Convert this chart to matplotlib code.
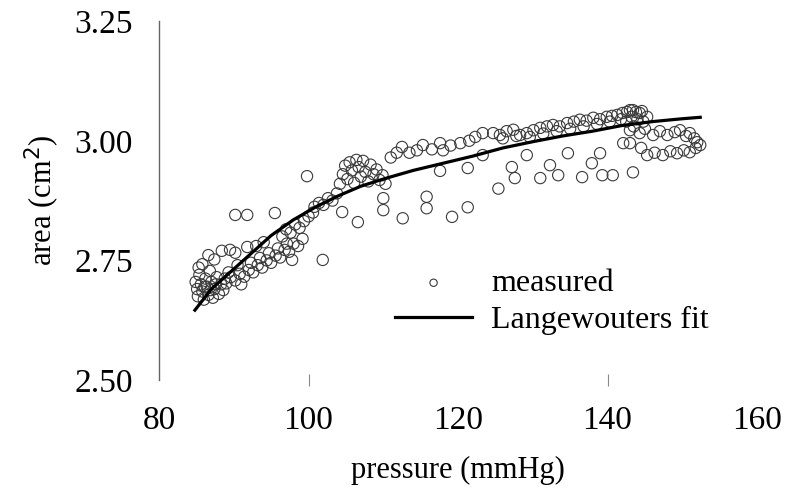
import matplotlib
matplotlib.use('Agg')
import matplotlib.pyplot as plt

# measured points (mmHg, cm^2)
pressure = [84.9, 85.1, 85.2, 85.4, 85.6, 85.8, 86.0, 86.2, 86.4, 86.6, 86.8, 87.0, 87.2, 87.4, 87.7, 88.0, 88.3, 88.6,
            85.3, 86.1, 86.9, 87.6, 88.8, 89.3, 90.5, 91.0,
            85.8, 86.6, 87.4, 88.4, 89.5, 90.2, 91.8, 93.0, 94.0,
            89.0, 89.6, 90.2, 90.8, 91.4, 92.0, 92.6, 93.2, 93.8, 94.4, 95.0, 95.6, 96.2, 96.8, 97.4, 98.0, 98.6, 99.2,
            92.3, 93.5, 94.7, 95.9, 97.1,
            96.5, 97.0, 97.6, 98.2, 98.8, 99.4, 100.0, 100.6,
            100.8, 101.4, 102.0, 102.6, 103.2, 103.8,
            104.2, 104.6, 104.9, 105.2, 105.5, 105.8, 106.1, 106.4, 106.7, 107.0, 107.3, 107.6, 108.0, 108.3, 108.7,
            109.1, 109.5, 109.9, 110.3,
            90.2, 91.8, 95.5, 97.8, 101.9, 99.8,
            104.5, 106.6, 110.0, 110.0, 112.6, 115.8, 115.8, 119.2, 121.3, 117.6, 121.3, 125.4, 123.3, 127.2, 127.6,
            129.2, 132.3, 133.4, 131.0, 134.7, 136.6, 137.9, 139.0, 139.3, 140.7, 143.4,
            111.0, 111.8, 112.5, 113.5, 114.5, 115.3, 116.5, 117.6, 118.0, 119.0, 120.3, 121.5, 122.3, 123.3, 124.7,
            125.6, 126.5, 127.4, 128.3, 129.2, 130.1, 131.0, 131.9, 132.7, 133.6, 134.6, 135.5, 136.3, 137.2, 138.1,
            139.0, 139.9, 140.6, 141.3, 142.0, 142.6, 143.0, 143.4, 143.8, 144.3, 144.6, 145.3,
            126.0, 127.8, 129.6, 131.4, 133.2, 135.0, 136.8, 138.6, 140.3, 141.8, 143.2, 144.0, 144.8,
            142.5, 143.0, 143.5, 144.3, 145.0, 146.1, 147.0, 148.0, 149.0, 149.7, 150.5, 151.0, 151.6, 152.0, 152.4,
            151.8, 151.0, 150.2, 149.3, 148.4, 147.4, 146.3, 145.3, 144.5, 143.0, 142.1]
area = [2.705, 2.690, 2.675, 2.720, 2.700, 2.685, 2.668, 2.712, 2.695, 2.678, 2.728, 2.705, 2.672, 2.690, 2.715, 2.680, 2.700, 2.688,
        2.735, 2.695, 2.688, 2.700, 2.712, 2.725, 2.740, 2.700,
        2.742, 2.761, 2.752, 2.770, 2.772, 2.766, 2.778, 2.780, 2.788,
        2.702, 2.715, 2.708, 2.722, 2.716, 2.730, 2.725, 2.740, 2.735, 2.750, 2.745, 2.760, 2.756, 2.772, 2.768, 2.785, 2.780, 2.795,
        2.745, 2.755, 2.765, 2.775, 2.785,
        2.800, 2.815, 2.808, 2.825, 2.818, 2.832, 2.842, 2.850,
        2.862, 2.870, 2.866, 2.880, 2.875, 2.890,
        2.910, 2.930, 2.948, 2.920, 2.955, 2.938, 2.912, 2.960, 2.945, 2.925, 2.958, 2.935, 2.915, 2.950, 2.930,
        2.940, 2.918, 2.928, 2.910,
        2.845, 2.845, 2.849, 2.751, 2.751, 2.926,
        2.851, 2.830, 2.880, 2.855, 2.838, 2.883, 2.859, 2.841, 2.861, 2.937, 2.943, 2.900, 2.970, 2.945, 2.922,
        2.970, 2.949, 2.928, 2.922, 2.974, 2.924, 2.953, 2.974, 2.928, 2.928, 2.934,
        2.965, 2.975, 2.987, 2.975, 2.980, 2.991, 2.982, 2.995, 2.980, 2.990, 2.995, 3.000, 3.008, 3.016, 3.016,
        3.012, 3.020, 3.023, 3.012, 3.016, 3.022, 3.027, 3.030, 3.033, 3.030, 3.037, 3.040, 3.044, 3.042, 3.048,
        3.045, 3.050, 3.052, 3.054, 3.058, 3.060, 3.064, 3.064, 3.060, 3.058, 3.062, 3.050,
        3.005, 3.010, 3.008, 3.015, 3.020, 3.025, 3.030, 3.035, 3.040, 3.045, 3.050, 3.045, 3.040,
        3.040, 3.022, 3.030, 3.016, 3.025, 3.012, 3.020, 3.012, 3.018, 3.022, 3.010, 3.016, 3.005, 2.997, 2.991,
        2.985, 2.976, 2.980, 2.974, 2.978, 2.970, 2.975, 2.970, 2.985, 2.995, 2.995]

# fitted curve
fit_p = [84.8, 87, 90, 92, 95, 98, 101, 104, 107, 110, 114, 118, 122, 126, 130, 134, 138, 142, 146, 150, 152.4]
fit_a = [2.646, 2.690, 2.732, 2.760, 2.802, 2.835, 2.862, 2.885, 2.905, 2.920, 2.938, 2.953, 2.968, 2.985,
         2.998, 3.010, 3.020, 3.032, 3.040, 3.046, 3.049]

xticks = [80, 100, 120, 140, 160]
yticks = [2.50, 2.75, 3.00, 3.25]

plt.rcParams['font.family'] = ['Liberation Serif', 'DejaVu Serif']
fig = plt.figure(figsize=(7.88, 4.91), dpi=100)
ax = fig.add_axes([0.2018, 0.226, 0.7589, 0.731])

ax.scatter(pressure, area, s=66, facecolors='none', edgecolors='#3a3a3a', linewidths=0.8,
           label='measured', zorder=2)
ax.plot(fit_p, fit_a, color='black', lw=2.3, label='Langewouters fit', zorder=3)

ax.set_xlim(80, 160)
ax.set_ylim(2.5, 3.25)
ax.set_xticks(xticks)
ax.set_yticks(yticks)
ax.set_yticklabels(['%.2f' % v for v in yticks])
for s in ['top', 'right', 'bottom']:
    ax.spines[s].set_visible(False)
ax.spines['left'].set_color('#666666')
ax.spines['left'].set_linewidth(1.0)
ax.tick_params(axis='y', length=0, pad=19, labelsize=24)
ax.tick_params(axis='x', length=8, width=0.8, color='#888888', direction='inout', pad=14, labelsize=24)
for v, t in zip(xticks, ax.xaxis.get_major_ticks()):
    if v not in (100, 140):
        t.tick1line.set_visible(False)

ax.set_xlabel('pressure (mmHg)', fontsize=22, labelpad=15)
ax.set_ylabel('area (cm$^2$)', fontsize=22, labelpad=9)

ax.legend(loc='upper left', bbox_to_anchor=(0.395, 0.31), frameon=False, fontsize=23,
          scatterpoints=1, markerscale=0.65, handlelength=2.4, handletextpad=0.6,
          labelspacing=0.25, borderpad=0, borderaxespad=0)

fig.savefig('out.png', dpi=100)
